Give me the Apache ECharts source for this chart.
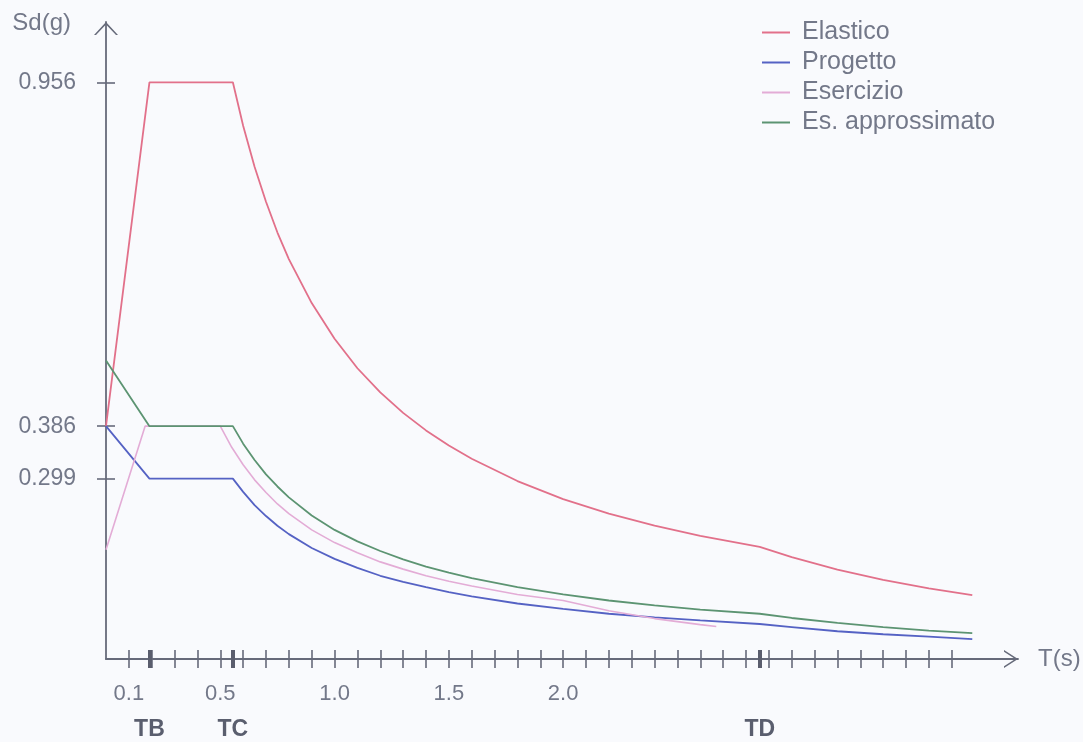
<!DOCTYPE html>
<html>
<head>
<meta charset="utf-8">
<script src="https://cdn.jsdelivr.net/npm/echarts@6/dist/echarts.min.js"></script>
<style>
html,body{margin:0;padding:0;background:#f9fafd;}
#chart{width:1083px;height:742px;}
</style>
</head>
<body>
<div id="chart"></div>
<script>
// ---- data ----
const seriesNames = ['Elastico', 'Progetto', 'Esercizio', 'Es. approssimato'];

// periods T (s) for Elastico / Progetto / Es. approssimato
const tMain = [0, 0.19, 0.555, 0.6, 0.65, 0.7, 0.75, 0.8, 0.9, 1.0, 1.1, 1.2, 1.3, 1.4, 1.5, 1.6, 1.8, 2.0, 2.2, 2.4, 2.6, 2.86, 3.0, 3.2, 3.4, 3.6, 3.79];
const sdElastico = [0.386, 0.956, 0.956, 0.884, 0.816, 0.758, 0.707, 0.663, 0.590, 0.531, 0.482, 0.442, 0.408, 0.379, 0.354, 0.332, 0.295, 0.265, 0.241, 0.221, 0.204, 0.186, 0.169, 0.148, 0.131, 0.117, 0.106];
const sdProgetto = [0.386, 0.299, 0.299, 0.277, 0.255, 0.237, 0.221, 0.207, 0.184, 0.166, 0.151, 0.138, 0.128, 0.119, 0.111, 0.104, 0.092, 0.083, 0.075, 0.069, 0.064, 0.058, 0.053, 0.046, 0.041, 0.037, 0.033];
const sdApprossimato = [0.495, 0.386, 0.386, 0.357, 0.330, 0.306, 0.286, 0.268, 0.238, 0.214, 0.195, 0.179, 0.165, 0.153, 0.143, 0.134, 0.119, 0.107, 0.097, 0.089, 0.082, 0.075, 0.068, 0.060, 0.053, 0.047, 0.043];

// periods T (s) for Esercizio
const tEsercizio = [0, 0.171, 0.5, 0.55, 0.6, 0.65, 0.7, 0.75, 0.8, 0.9, 1.0, 1.1, 1.2, 1.3, 1.4, 1.5, 1.6, 1.8, 2.0, 2.2, 2.4, 2.6, 2.67];
const sdEsercizio = [0.181, 0.386, 0.386, 0.351, 0.322, 0.297, 0.276, 0.257, 0.241, 0.214, 0.193, 0.176, 0.161, 0.149, 0.138, 0.129, 0.121, 0.107, 0.097, 0.080, 0.067, 0.057, 0.054];

// axis ticks and labels
const xTickValues = [0.1, 0.2, 0.3, 0.4, 0.5, 0.6, 0.7, 0.8, 0.9, 1.0, 1.1, 1.2, 1.3, 1.4, 1.5, 1.6, 1.7, 1.8, 1.9, 2.0, 2.1, 2.2, 2.3, 2.4, 2.5, 2.6, 2.7, 2.8, 2.9, 3.0, 3.1, 3.2, 3.3, 3.4, 3.5, 3.6, 3.7];
const xLabelValues = [0.1, 0.5, 1.0, 1.5, 2.0];
const periodMarkValues = [0.19, 0.555, 2.86];
const periodMarkNames = ['TB', 'TC', 'TD'];
const yTickValues = [0.299, 0.386, 0.956];

// ---- styling ----
const axisColor = '#666a7a';
const textColor = '#737889';
const fontFamily = '"Liberation Sans", Arial, sans-serif';
const colors = ['#e2708a', '#5562c4', '#e3acd6', '#5c9472'];
const xMin = 0, xMax = 3.99, yMin = 0, yMax = 1.056;

function pairs(ts, vs) { return ts.map((t, i) => [t, vs[i]]); }

const arrowX = 'path://M0,14L9,0L18,14L16.2,14L9,2.8L1.8,14Z';
const arrowY = 'path://M0,13L12,0L24,13L22,13L12,2.4L2,13Z';

function baseX(extra) {
  return Object.assign({
    type: 'value', min: xMin, max: xMax, position: 'bottom', offset: 0,
    splitLine: { show: false }, axisLine: { show: false },
    axisLabel: { show: false }, axisTick: { show: false }
  }, extra);
}
function baseY(extra) {
  return Object.assign({
    type: 'value', min: yMin, max: yMax, position: 'left', offset: 0,
    splitLine: { show: false }, axisLine: { show: false },
    axisLabel: { show: false }, axisTick: { show: false }
  }, extra);
}

const chart = echarts.init(document.getElementById('chart'), null, { renderer: 'canvas' });
chart.setOption({
  backgroundColor: '#f9fafd',
  animation: false,
  textStyle: { fontFamily: fontFamily },
  grid: { left: 106, right: 65, top: 22, bottom: 83, outerBoundsMode: 'none' },
  legend: {
    data: seriesNames,
    orient: 'vertical',
    left: 757, top: 15,
    icon: 'rect', itemWidth: 28, itemHeight: 2, itemGap: 5,
    textStyle: { fontSize: 25, color: textColor, fontFamily: fontFamily, lineHeight: 25, padding: [0, 0, 0, 7] }
  },
  xAxis: [
    baseX({
      axisLine: { show: true, lineStyle: { color: axisColor, width: 1.8 }, symbol: ['none', arrowX], symbolSize: [18, 14], symbolOffset: [0, -7] },
      axisTick: { show: true, customValues: xTickValues, length: 9, lineStyle: { color: axisColor, width: 1.6 } },
      axisLabel: { show: true, customValues: xLabelValues, formatter: v => Number(v).toFixed(1), margin: 24, fontSize: 22, color: textColor },
      name: 'T(s)', nameLocation: 'end', nameGap: 20,
      nameTextStyle: { fontSize: 24, color: textColor, align: 'left', verticalAlign: 'middle', padding: [0, 0, 8, 0] }
    }),
    baseX({
      axisTick: { show: true, inside: true, customValues: xTickValues, length: 9, lineStyle: { color: axisColor, width: 1.6 } }
    }),
    baseX({
      axisTick: { show: true, customValues: periodMarkValues, length: 9, lineStyle: { color: '#5a5d6d', width: 4 } },
      axisLabel: {
        show: true, customValues: periodMarkValues, margin: 59, fontSize: 23, fontWeight: 'bold', color: '#5a5e6e',
        formatter: v => {
          let best = 0;
          periodMarkValues.forEach((m, i) => { if (Math.abs(m - v) < Math.abs(periodMarkValues[best] - v)) best = i; });
          return periodMarkNames[best];
        }
      }
    }),
    baseX({
      axisTick: { show: true, inside: true, customValues: periodMarkValues, length: 9, lineStyle: { color: '#5a5d6d', width: 4 } }
    })
  ],
  yAxis: [
    baseY({
      axisLine: { show: true, lineStyle: { color: axisColor, width: 1.8 }, symbol: ['none', arrowY], symbolSize: [24, 13], symbolOffset: [0, -6.5] },
      axisTick: { show: true, customValues: yTickValues, length: 9, lineStyle: { color: axisColor, width: 1.6 } },
      axisLabel: { show: true, customValues: yTickValues, formatter: v => Number(v).toFixed(3), margin: 30, fontSize: 23, color: textColor },
      name: 'Sd(g)', nameLocation: 'end', nameGap: -1,
      nameTextStyle: { fontSize: 24, color: textColor, align: 'right', verticalAlign: 'middle', padding: [0, 35, 0, 0] }
    }),
    baseY({
      axisTick: { show: true, inside: true, customValues: yTickValues, length: 9, lineStyle: { color: axisColor, width: 1.6 } }
    })
  ],
  series: [
    { name: seriesNames[0], type: 'line', data: pairs(tMain, sdElastico), showSymbol: false, color: colors[0], lineStyle: { width: 1.8, color: colors[0] } },
    { name: seriesNames[1], type: 'line', data: pairs(tMain, sdProgetto), showSymbol: false, color: colors[1], lineStyle: { width: 1.8, color: colors[1] } },
    { name: seriesNames[2], type: 'line', data: pairs(tEsercizio, sdEsercizio), showSymbol: false, color: colors[2], lineStyle: { width: 1.6, color: colors[2] } },
    { name: seriesNames[3], type: 'line', data: pairs(tMain, sdApprossimato), showSymbol: false, color: colors[3], lineStyle: { width: 1.8, color: colors[3] } }
  ]
});
</script>
</body>
</html>
